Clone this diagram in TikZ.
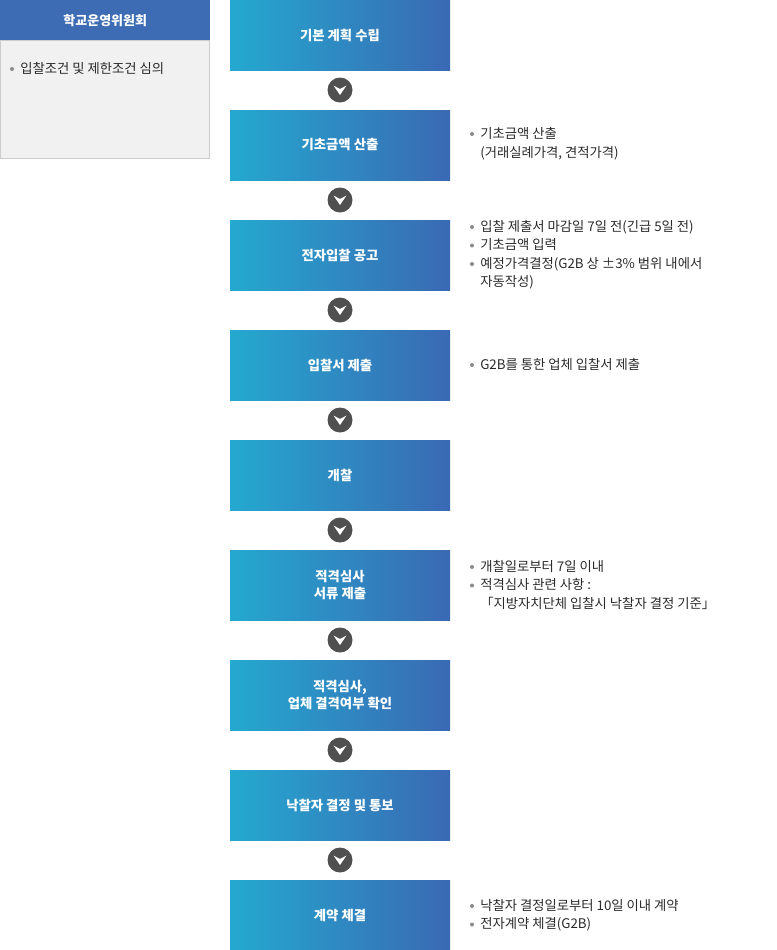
\documentclass[tikz,border=0pt]{standalone}
\usepackage{fontspec}
\usetikzlibrary{calc}
\setmainfont{Noto Sans CJK KR}
\definecolor{hdr}{HTML}{3D6CB4}
\definecolor{gl}{HTML}{24A9D0}
\definecolor{gr}{HTML}{3A69B3}
\definecolor{panel}{HTML}{F1F1F1}
\definecolor{pline}{HTML}{CCCCCC}
\definecolor{circ}{HTML}{505050}
\definecolor{txt}{HTML}{2A2A2A}
\definecolor{dot}{HTML}{8A8A8A}
\begin{document}
\begin{tikzpicture}[x=0.75pt,y=-0.75pt,
  stepbox/.style={minimum width=165pt,minimum height=52.5pt,inner sep=0pt,outer sep=0pt,
    left color=gl,right color=gr,text=white,align=center,
    font=\fontsize{10}{13}\selectfont\bfseries},
  circnode/.style={circle,fill=circ,minimum size=18.75pt,inner sep=0pt},
  note/.style={anchor=west,inner sep=0pt,text=txt,text height=0.8em,text depth=0.2em,
    font=\fontsize{10}{13}\selectfont},
  bul/.style={circle,fill=dot,minimum size=3pt,inner sep=0pt}]
\useasboundingbox (0,0) rectangle (776,950);
% left panel
\path[fill=panel,draw=pline,line width=0.75pt] (0.5,40) rectangle (209.5,158);
\node[fill=hdr,minimum width=157.5pt,minimum height=30pt,inner sep=0pt,anchor=north west,
  text=white,font=\fontsize{9.75}{12}\selectfont\bfseries] (hdrbox) at (0,0) {학교운영위원회};
\node[bul] (lb) at (12,69) {};
\node[note] (lt) at (20,69) {입찰조건 및 제한조건 심의};
% steps
\foreach \i/\t in {0/{기본 계획 수립},1/{기초금액 산출},2/{전자입찰 공고},3/{입찰서 제출},4/{개찰},
  5/{적격심사\\서류 제출},6/{적격심사,\\업체 결격여부 확인},7/{낙찰자 결정 및 통보},8/{계약 체결}}{
  \node[stepbox] (s\i) at (340,35+110*\i) {\t};
}
\foreach \i in {0,...,7}{
  \node[circnode] (c\i) at (340,90+110*\i) {};
  \fill[white] ($(c\i)+(-6.5,-4.5)$) -- ($(c\i)+(0,-1)$) -- ($(c\i)+(6.5,-4.5)$) -- ($(c\i)+(0,5)$) -- cycle;
}
% notes
\foreach \y/\b/\t in {134/1/{기초금액 산출},153/0/{(거래실례가격, 견적가격)},
  227/1/{입찰 제출서 마감일 7일 전(긴급 5일 전)},245.5/1/{기초금액 입력},
  264/1/{예정가격결정(G2B 상 ±3\% 범위 내에서},282.5/0/{자동작성)},
  365/1/{G2B를 통한 업체 입찰서 제출},
  567/1/{개찰일로부터 7일 이내},585.5/1/{적격심사 관련 사항 :},604/0/{「지방자치단체 입찰시 낙찰자 결정 기준」},
  906/1/{낙찰자 결정일로부터 10일 이내 계약},924.5/1/{전자계약 체결(G2B)}}{
  \ifnum\b=1 \node[bul] at (472,\y) {};\fi
  \node[note] at (480,\y) {\t};
}
\end{tikzpicture}
\end{document}
